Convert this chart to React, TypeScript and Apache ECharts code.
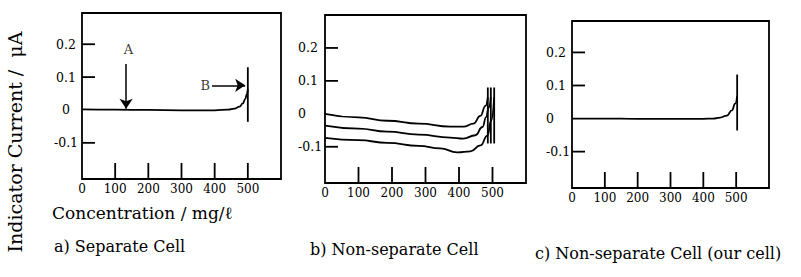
import React, { useEffect, useRef } from "react";
import * as echarts from "echarts";

const X_TICK_LABELS = [0, 100, 200, 300, 400, 500];
const X_TICK_MARKS = [100, 200, 300, 400, 500];
const Y_TICK_LABELS = [-0.1, 0, 0.1, 0.2];
const Y_TICK_MARKS = [-0.1, 0.1, 0.2];

// a) Separate Cell
const aConc = [0, 100, 200, 300, 400, 440, 460, 475, 485, 492, 497, 500];
const aCurrent = [0.002, 0.001, 0.0, -0.001, -0.001, 0.001, 0.004, 0.01, 0.02, 0.033, 0.048, 0.063];
const aSpikeConc = 500;
const aSpikeRange = [-0.036, 0.13];

// b) Non-separate Cell
const b1Conc = [0, 100, 186, 280, 374, 413, 443, 464, 479, 486];
const b1Current = [0.0, -0.011, -0.021, -0.03, -0.039, -0.039, -0.03, -0.006, 0.024, 0.05];
const b2Conc = [0, 100, 186, 280, 374, 413, 449, 470, 481, 489, 495];
const b2Current = [-0.036, -0.045, -0.054, -0.063, -0.072, -0.075, -0.065, -0.04, -0.01, 0.02, 0.05];
const b3Conc = [0, 100, 186, 280, 344, 395, 434, 464, 485, 496, 505];
const b3Current = [-0.073, -0.08, -0.088, -0.097, -0.105, -0.117, -0.114, -0.096, -0.066, -0.02, 0.05];
const bSpikeConc = [486, 495, 505];
const bSpikeRange = [-0.09, 0.08];

// c) Non-separate Cell (our cell)
const cConc = [0, 100, 200, 300, 400, 430, 451, 472, 487, 497, 503];
const cCurrent = [0.0, 0.0, -0.001, -0.001, -0.001, 0.0, 0.003, 0.009, 0.025, 0.045, 0.068];
const cSpikeConc = 503;
const cSpikeRange = [-0.036, 0.133];

// annotations on panel a
const annotationTexts = ["A", "B"];
const annotationPoints = [
  [140, 0.185],
  [372, 0.075],
];
const arrowA = [
  [133, 0.14],
  [133, 0.004],
];
const arrowB = [
  [392, 0.075],
  [492, 0.075],
];

const SERIF = "'DejaVu Serif', 'Liberation Serif', serif";
const INK = "#000000";
const X_MIN = 0;
const X_MAX = 600;

const zip = (xs: number[], ys: number[]) => xs.map((x, i) => [x, ys[i]]);

export default function App() {
  const ref = useRef<HTMLDivElement>(null);
  useEffect(() => {
    document.body.style.margin = "0";
    const chart = echarts.init(ref.current!, undefined, { renderer: "svg" });

    const grids = [
      { left: 82, top: 13, width: 199, height: 166, yMax: 0.295, yMin: -0.21 },
      { left: 325, top: 15, width: 201, height: 168, yMax: 0.3, yMin: -0.21 },
      { left: 572, top: 21, width: 197, height: 167, yMax: 0.295, yMin: -0.21 },
    ];
    const yLabelCfg = [
      { align: "center", margin: 16 },
      { align: "left", margin: 27 },
      { align: "left", margin: 26 },
    ];

    const lineSeries = (gi: number, data: any[], smooth = true, width = 1.8) => ({
      type: "line",
      xAxisIndex: gi,
      yAxisIndex: gi,
      data,
      smooth,
      smoothMonotone: "x",
      showSymbol: false,
      symbol: "none",
      lineStyle: { color: INK, width },
      silent: true,
      z: 3,
    });

    const series: any[] = [
      lineSeries(0, zip(aConc, aCurrent)),
      lineSeries(0, aSpikeRange.map((v) => [aSpikeConc, v]), false),
      lineSeries(1, zip(b1Conc, b1Current)),
      lineSeries(1, zip(b2Conc, b2Current)),
      lineSeries(1, zip(b3Conc, b3Current)),
      ...bSpikeConc.map((x) => lineSeries(1, bSpikeRange.map((v) => [x, v]), false)),
      lineSeries(2, zip(cConc, cCurrent)),
      lineSeries(2, cSpikeRange.map((v) => [cSpikeConc, v]), false),
      {
        type: "scatter",
        xAxisIndex: 0,
        yAxisIndex: 0,
        symbolSize: 0,
        silent: true,
        data: annotationPoints.map((p, i) => ({ value: p, name: annotationTexts[i] })),
        label: {
          show: true,
          position: "inside",
          formatter: (p: any) => p.name,
          fontFamily: SERIF,
          fontSize: 13,
          color: INK,
        },
        markLine: {
          silent: true,
          symbol: ["none", "arrow"],
          symbolSize: 10,
          label: { show: false },
          lineStyle: { color: INK, width: 1.5, type: "solid" },
          data: [
            [{ coord: arrowA[0] }, { coord: arrowA[1] }],
            [{ coord: arrowB[0] }, { coord: arrowB[1] }],
          ],
        },
      },
    ];

    const textGraphics: any[] = [
      {
        type: "text",
        x: 15,
        y: 142,
        rotation: Math.PI / 2,
        style: {
          text: "Indicator Current /  μA",
          font: `19px ${SERIF}`,
          fill: INK,
          align: "center",
          verticalAlign: "middle",
        },
      },
      {
        type: "text",
        x: 52,
        y: 213,
        style: { text: "Concentration / mg/ℓ", font: `17px ${SERIF}`, fill: INK, verticalAlign: "middle" },
      },
      {
        type: "text",
        x: 54,
        y: 246,
        style: { text: "a) Separate Cell", font: `16px ${SERIF}`, fill: INK, verticalAlign: "middle" },
      },
      {
        type: "text",
        x: 310,
        y: 249,
        style: { text: "b) Non-separate Cell", font: `16px ${SERIF}`, fill: INK, verticalAlign: "middle" },
      },
      {
        type: "text",
        x: 535,
        y: 253,
        style: {
          text: "c) Non-separate Cell (our cell)",
          font: `16px ${SERIF}`,
          fill: INK,
          verticalAlign: "middle",
        },
      },
    ];

    const option: any = {
      animation: false,
      backgroundColor: "#ffffff",
      grid: grids.map((g) => ({
        left: g.left,
        top: g.top,
        width: g.width,
        height: g.height,
        show: true,
        borderColor: INK,
        borderWidth: 1.8,
        backgroundColor: "transparent",
      })),
      xAxis: grids.map((g, i) => ({
        type: "value",
        gridIndex: i,
        min: X_MIN,
        max: X_MAX,
        interval: 100,
        axisLine: { show: false, onZero: false },
        splitLine: { show: false },
        axisTick: { show: false },
        axisLabel: {
          customValues: X_TICK_LABELS,
          fontFamily: SERIF,
          fontSize: 12,
          color: INK,
          margin: 4,
        },
      })),
      yAxis: grids.map((g, i) => ({
        type: "value",
        gridIndex: i,
        min: g.yMin,
        max: g.yMax,
        axisLine: { show: false, onZero: false },
        splitLine: { show: false },
        axisTick: { show: false },
        axisLabel: {
          customValues: Y_TICK_LABELS,
          formatter: (v: number) => (v === 0 ? "0" : v.toFixed(1)),
          fontFamily: SERIF,
          fontSize: 12.5,
          color: INK,
          align: yLabelCfg[i].align,
          margin: yLabelCfg[i].margin,
        },
      })),
      graphic: textGraphics,
      series,
    };
    chart.setOption(option);

    // inward tick marks: positions come from the axes' own scales
    const tickGraphics: any[] = [];
    grids.forEach((g, gi) => {
      X_TICK_MARKS.forEach((v) => {
        const p = chart.convertToPixel({ gridIndex: gi } as any, [v, g.yMin]) as number[];
        if (p) {
          tickGraphics.push({
            type: "line",
            z: 100,
            shape: { x1: p[0], y1: p[1], x2: p[0], y2: p[1] - 16 },
            style: { stroke: INK, lineWidth: 1.8 },
          });
        }
      });
      Y_TICK_MARKS.forEach((v) => {
        const p = chart.convertToPixel({ gridIndex: gi } as any, [X_MIN, v]) as number[];
        if (p) {
          tickGraphics.push({
            type: "line",
            z: 100,
            shape: { x1: p[0], y1: p[1], x2: p[0] + 13, y2: p[1] },
            style: { stroke: INK, lineWidth: 1.8 },
          });
        }
      });
    });
    chart.setOption({ graphic: [...textGraphics, ...tickGraphics] });

    return () => chart.dispose();
  }, []);
  return <div ref={ref} style={{ width: 801, height: 277 }} />;
}
